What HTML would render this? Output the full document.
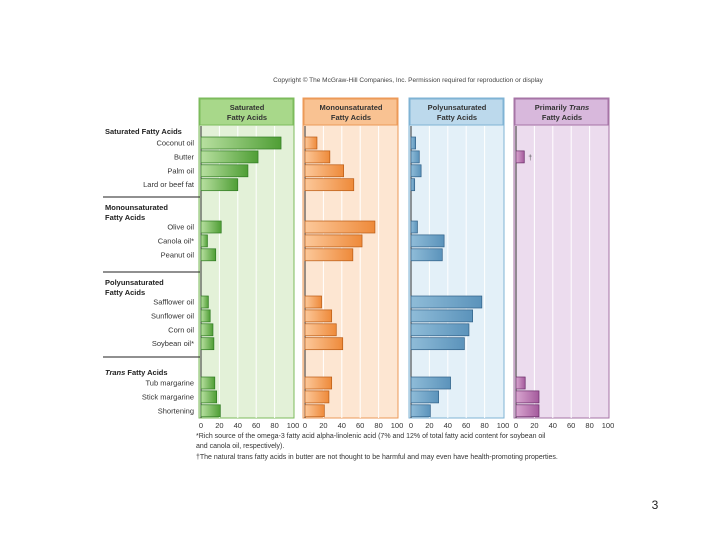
<!DOCTYPE html>
<html><head><meta charset="utf-8"><style>
body{margin:0;background:#fff;}
svg{display:block;font-family:"Liberation Sans",sans-serif;}
</style></head><body>
<svg id="chart" width="720" height="540" xmlns="http://www.w3.org/2000/svg">
<defs>
<linearGradient id="gG" x1="0" x2="1"><stop offset="0" stop-color="#b8e0a0"/><stop offset="1" stop-color="#4f9e35"/></linearGradient>
<linearGradient id="gO" x1="0" x2="1"><stop offset="0" stop-color="#fcc89a"/><stop offset="1" stop-color="#ee8a3a"/></linearGradient>
<linearGradient id="gB" x1="0" x2="1"><stop offset="0" stop-color="#8fbcd8"/><stop offset="1" stop-color="#5b93bb"/></linearGradient>
<linearGradient id="gP" x1="0" x2="1"><stop offset="0" stop-color="#d9a6d0"/><stop offset="1" stop-color="#a45a9c"/></linearGradient>
</defs>
<text x="408" y="82" font-size="6.5" text-anchor="middle" fill="#444">Copyright © The McGraw-Hill Companies, Inc. Permission required for reproduction or display</text>
<g id="panels"></g>
<g id="labels"></g>
<text x="196" y="438" font-size="7" fill="#333">*Rich source of the omega-3 fatty acid alpha-linolenic acid (7% and 12% of total fatty acid content for soybean oil</text>
<text x="196" y="448" font-size="7" fill="#333">and canola oil, respectively).</text>
<text x="196" y="459" font-size="7" fill="#333">†The natural trans fatty acids in butter are not thought to be harmful and may even have health-promoting properties.</text>
<text x="655" y="509" font-size="12" text-anchor="middle" fill="#222">3</text>
</svg>
<script>
const categories=["Coconut oil","Butter","Palm oil","Lard or beef fat","Olive oil","Canola oil*","Peanut oil","Safflower oil","Sunflower oil","Corn oil","Soybean oil*","Tub margarine","Stick margarine","Shortening"];
const saturated=[87,62,51,40,22,7,16,8,10,13,14,15,17,21];
const monounsaturated=[13,27,42,53,76,62,52,18,29,34,41,29,26,21];
const polyunsaturated=[5,9,11,4,7,36,34,77,67,63,58,43,30,21];
const trans=[0,9,0,0,0,0,0,0,0,0,0,10,25,25];
const tickLabels=[0,20,40,60,80,100];
const NS="http://www.w3.org/2000/svg";
const pg=document.getElementById('panels'), lg=document.getElementById('labels');
function mk(tag,attrs,parent){const e=document.createElementNS(NS,tag);for(const k in attrs)e.setAttribute(k,attrs[k]);parent.appendChild(e);return e;}
const groupStart=[143,227,302,383], groupSizes=[4,3,4,3], rowStep=13.9;
function yOf(i){let g=0,idx=i;while(idx>=groupSizes[g]){idx-=groupSizes[g];g++;}return groupStart[g]+idx*rowStep;}
const plotTop=126, plotBottom=418, headTop=98;
const panels=[
 {x0:201,data:saturated,grad:"gG",bg:"#e3f1d8",hd:"#a8d88a",bd:"#7cbb5c",dk:"#2f7a22",t:["Saturated","Fatty Acids"],name:"saturated"},
 {x0:305,data:monounsaturated,grad:"gO",bg:"#fde6d2",hd:"#f9c292",bd:"#ec9a58",dk:"#b85a14",t:["Monounsaturated","Fatty Acids"],name:"monounsaturated"},
 {x0:411,data:polyunsaturated,grad:"gB",bg:"#e3f0f8",hd:"#bcd9ec",bd:"#7fb3d4",dk:"#2f5f86",t:["Polyunsaturated","Fatty Acids"],name:"polyunsaturated"},
 {x0:516,data:trans,grad:"gP",bg:"#ecdcee",hd:"#d8b8dc",bd:"#a674a6",dk:"#6a2c68",t:["Primarily Trans","Fatty Acids"],name:"trans"}
];
const W=92;
panels.forEach(p=>{
 const xs=v=>p.x0+v/100*W;
 const g=mk('g',{},pg);
 
 
 const bg=mk('rect',{x:p.x0-2,y:headTop,width:W+3,height:plotBottom-headTop,fill:p.bg,stroke:p.bd,'stroke-width':1},g);
 
 const hd=mk('rect',{x:p.x0-1,y:headTop+1,width:W+1,height:plotTop-headTop-2,fill:p.hd,stroke:p.bd,'stroke-width':1},g);
 
 p.t.forEach((s,k)=>{const t=mk('text',{x:p.x0+W/2,y:110+k*10,'font-size':7.5,'font-weight':'bold','text-anchor':'middle',fill:'#333'},g);
  if(s.indexOf('Trans')>=0){t.appendChild(document.createTextNode('Primarily '));const ts=mk('tspan',{'font-style':'italic'},t);ts.textContent='Trans';}else t.textContent=s;
  });
 tickLabels.forEach(v=>{
  if(v>0&&v<100){const l=mk('line',{x1:xs(v),x2:xs(v),y1:plotTop,y2:plotBottom,stroke:'#fff','stroke-width':1},g);
   }
  const t=mk('text',{x:xs(v),y:428,'font-size':7.5,'text-anchor':'middle',fill:'#333'},g);t.textContent=v;
  
 });
 const ax=mk('line',{x1:p.x0,x2:p.x0,y1:plotTop,y2:plotBottom,stroke:'#333','stroke-width':1},g);
 
 p.data.forEach((v,i)=>{
  if(v<=0)return;
  const r=mk('rect',{x:p.x0,y:yOf(i)-6,width:xs(v)-p.x0,height:12,fill:'url(#'+p.grad+')',stroke:p.dk,'stroke-width':0.7},g);
  
  
 });
});
function xs2(v){return 516+v/100*W;}
const dg=mk('text',{x:xs2(trans[1])+4,y:yOf(1)+3,'font-size':7,fill:'#555'},lg);
dg.textContent='†';

categories.forEach((c,i)=>{const t=mk('text',{x:194,y:yOf(i)+2.5,'font-size':7.5,'text-anchor':'end',fill:'#333'},lg);t.textContent=c;
 });
const heads=[[131,["Saturated Fatty Acids"]],[207,["Monounsaturated","Fatty Acids"]],[282,["Polyunsaturated","Fatty Acids"]],[372,["Trans Fatty Acids"]]];
heads.forEach(([y,ls],k)=>{ls.forEach((s,j)=>{const t=mk('text',{x:105,y:y+3+j*10,'font-size':7.5,'font-weight':'bold',fill:'#222'},lg);
 if(k==3){const ts=mk('tspan',{'font-style':'italic'},t);ts.textContent='Trans';t.appendChild(document.createTextNode(' Fatty Acids'));}else t.textContent=s;
 });});
[197,272,357].forEach(y=>{const l=mk('line',{x1:103,x2:200,y1:y,y2:y,stroke:'#222','stroke-width':1},lg);
 });
</script>
</body></html>
